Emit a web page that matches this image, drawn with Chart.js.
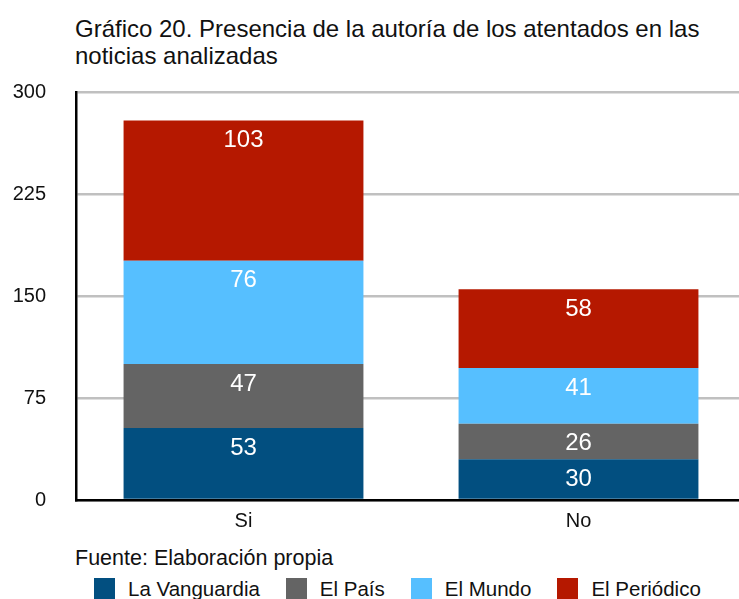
<!DOCTYPE html>
<html>
<head>
<meta charset="utf-8">
<script src="https://cdn.jsdelivr.net/npm/chart.js@4/dist/chart.umd.min.js"></script>
<style>
  html, body { margin: 0; padding: 0; background: #fff; overflow: hidden; width: 739px; height: 599px; }
  body { position: relative; font-family: "Liberation Sans", Arial, sans-serif; color: #111; }
  #wrap { position: absolute; left: 0; top: 0; width: 746px; height: 545px; }
  #title { position: absolute; left: 75px; top: 15px; font-size: 24px; line-height: 27px; white-space: nowrap; }
  #source { position: absolute; left: 75px; top: 546px; font-size: 21.5px; line-height: 25px; white-space: nowrap; }
  #legend { position: absolute; left: 94px; top: 577px; display: flex; align-items: center; font-size: 20.5px; line-height: 23px; white-space: nowrap; }
  .item { display: flex; align-items: center; margin-right: 26px; }
  .box { width: 21px; height: 21px; margin-right: 13px; }
</style>
</head>
<body>
<div id="title">Gráfico 20. Presencia de la autoría de los atentados en las<br>noticias analizadas</div>
<div id="wrap"><canvas id="c" width="746" height="545"></canvas></div>
<div id="source">Fuente: Elaboración propia</div>
<div id="legend"></div>
<script>
const categories = ["Si", "No"];
const seriesNames = ["La Vanguardia", "El País", "El Mundo", "El Periódico"];
const laVanguardia = [53, 30];
const elPais = [47, 26];
const elMundo = [76, 41];
const elPeriodico = [103, 58];
const yTicks = [0, 75, 150, 225, 300];
const seriesColors = ["#024f80", "#646464", "#56bfff", "#b51800"];

const seriesValues = [laVanguardia, elPais, elMundo, elPeriodico];

// HTML legend
const legendEl = document.getElementById('legend');
seriesNames.forEach((n, i) => {
  const it = document.createElement('div'); it.className = 'item';
  const b = document.createElement('div'); b.className = 'box'; b.style.background = seriesColors[i];
  const t = document.createElement('span'); t.textContent = n;
  it.appendChild(b); it.appendChild(t); legendEl.appendChild(it);
});

const valueLabels = {
  id: 'valueLabels',
  afterDatasetsDraw(chart) {
    const ctx = chart.ctx;
    ctx.save();
    ctx.fillStyle = '#ffffff';
    ctx.font = '24px "Liberation Sans", Arial, sans-serif';
    ctx.textAlign = 'center';
    ctx.textBaseline = 'middle';
    chart.data.datasets.forEach((ds, di) => {
      const meta = chart.getDatasetMeta(di);
      meta.data.forEach((el, i) => {
        ctx.fillText(String(ds.data[i]), el.x, el.y + 20);
      });
    });
    ctx.restore();
  }
};

new Chart(document.getElementById('c'), {
  type: 'bar',
  data: {
    labels: categories,
    datasets: seriesNames.map((n, i) => ({
      label: n,
      data: seriesValues[i],
      backgroundColor: seriesColors[i],
      borderWidth: 0,
      categoryPercentage: 1,
      barPercentage: 0.716
    }))
  },
  options: {
    responsive: false,
    animation: false,
    layout: { padding: { top: 92, left: 0, right: 0, bottom: 0 } },
    plugins: { legend: { display: false }, title: { display: false }, tooltip: { enabled: false } },
    scales: {
      x: {
        stacked: true,
        grid: { display: false, drawTicks: false },
        border: { display: true, color: '#000', width: 2.5 },
        ticks: { color: '#111', font: { family: '"Liberation Sans", Arial, sans-serif', size: 20 }, padding: 9 },
        afterFit(s) { s.height = 45; }
      },
      y: {
        stacked: true,
        min: 0, max: 300,
        afterBuildTicks(s) { s.ticks = yTicks.map(v => ({ value: v })); },
        grid: { color: '#c0c0c0', lineWidth: 2.5, drawTicks: false },
        border: { display: true, color: '#000', width: 2.5 },
        ticks: { color: '#111', font: { family: '"Liberation Sans", Arial, sans-serif', size: 20 }, padding: 30 },
        afterFit(s) { s.width = 76; }
      }
    }
  },
  plugins: [valueLabels]
});
</script>
</body>
</html>
